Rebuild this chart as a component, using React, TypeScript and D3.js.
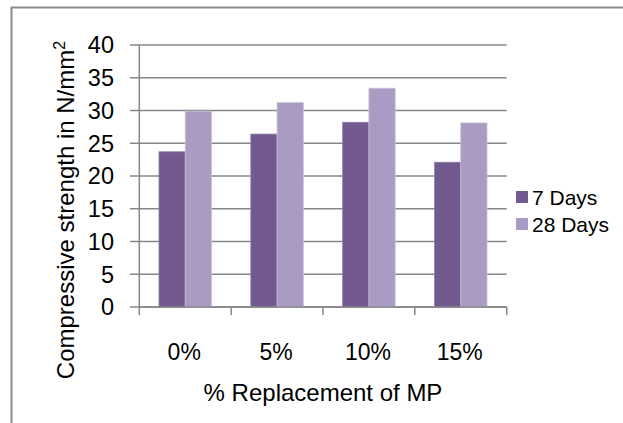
import React, { useEffect } from "react";
import * as d3 from "d3";

const categories = ["0%", "5%", "10%", "15%"];
const seriesNames = ["7 Days", "28 Days"];
const days7 = [23.7, 26.4, 28.2, 22.1];
const days28 = [29.9, 31.2, 33.4, 28.1];
const yTicks = [0, 5, 10, 15, 20, 25, 30, 35, 40];
const colors = ["#725A90", "#A99BC1"];
const edgeColors = ["#8f7bab", "#c9c0d9"];

const W = 623;
const H = 423;
const FONT = "'Liberation Sans', Arial, sans-serif";

export default function App() {
  useEffect(() => {
    document.body.style.margin = "0";
  }, []);

  const x0 = 139.3;
  const x1 = 506.7;
  const y = d3.scaleLinear().domain([0, 40]).range([307, 45]);
  const xBand = d3.scaleBand().domain(categories).range([x0, x1]).paddingInner(0).paddingOuter(0);
  const bw = xBand.bandwidth();
  const gap = 1.5;
  const barW = bw / (2 + gap);
  const series = [days7, days28];
  const grid = "#878787";

  return (
    <svg width={W} height={H} style={{ display: "block" }} fontFamily={FONT}>
      <rect x={0} y={0} width={W} height={H} fill="#fff" />
      <rect x={11.5} y={7.5} width={800} height={600} fill="none" stroke="#8a8a8a" strokeWidth={2} />
      {yTicks.map((t) => (
        <g key={t}>
          <line x1={130} x2={x1} y1={y(t)} y2={y(t)} stroke={grid} strokeWidth={1.5} />
          <text x={114} y={y(t)} dy="0.36em" textAnchor="end" fontSize={23.5} fill="#000">
            {t}
          </text>
        </g>
      ))}
      {series.map((vals, si) =>
        categories.map((c, ci) => {
          const bx = (xBand(c) as number) + (barW * gap) / 2 + si * barW;
          return (
            <rect
              key={`${si}-${ci}`}
              x={bx}
              y={y(vals[ci])}
              width={barW}
              height={y(0) - y(vals[ci])}
              fill={colors[si]}
              stroke={edgeColors[si]}
              strokeWidth={0.8}
            />
          );
        })
      )}
      <line x1={x0} x2={x0} y1={y(40)} y2={y(0)} stroke={grid} strokeWidth={1.5} />
      <line x1={x0} x2={x1} y1={y(0)} y2={y(0)} stroke={grid} strokeWidth={1.5} />
      {[...categories.map((c) => xBand(c) as number), x1].map((tx, i) => (
        <line key={i} x1={tx} x2={tx} y1={y(0)} y2={y(0) + 8} stroke={grid} strokeWidth={1.5} />
      ))}
      {categories.map((c) => (
        <text
          key={c}
          x={(xBand(c) as number) + bw / 2 - 1}
          y={360}
          textAnchor="middle"
          fontSize={23}
          fill="#000"
        >
          {c}
        </text>
      ))}
      <text x={(x0 + x1) / 2} y={401} textAnchor="middle" fontSize={24} fill="#000">
        % Replacement of MP
      </text>
      <text
        transform="translate(74,210) rotate(-90)"
        textAnchor="middle"
        fontSize={24}
        fill="#000"
      >
        Compressive strength in N/mm
        <tspan fontSize={16} dy={-9}>2</tspan>
      </text>
      {seriesNames.map((n, i) => (
        <g key={n}>
          <rect x={516} y={191 + i * 27} width={12} height={12} fill={colors[i]} />
          <text x={532} y={204.5 + i * 27} fontSize={21} fill="#000">
            {n}
          </text>
        </g>
      ))}
    </svg>
  );
}
